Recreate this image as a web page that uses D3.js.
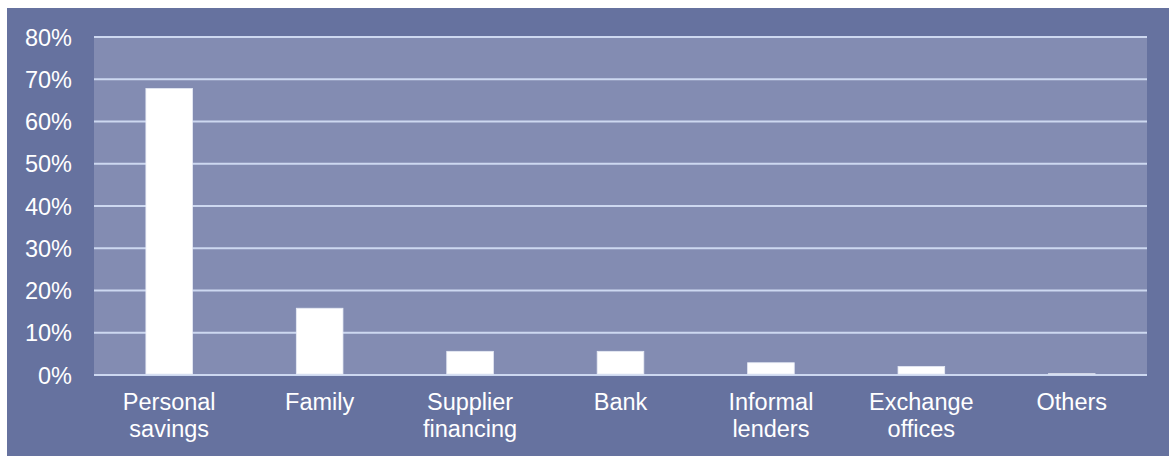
<!DOCTYPE html>
<html>
<head>
<meta charset="utf-8">
<script src="https://cdn.jsdelivr.net/npm/d3@7"></script>
<style>
  html, body { margin: 0; padding: 0; background: #ffffff; }
  svg { display: block; }
  text { font-family: "Liberation Sans", Arial, sans-serif; fill: #ffffff; }
</style>
</head>
<body>
<svg id="chart" width="1169" height="456"></svg>
<script>
// Sources of financing (share of respondents)
const categories = [
  ["Personal", "savings"],
  ["Family"],
  ["Supplier", "financing"],
  ["Bank"],
  ["Informal", "lenders"],
  ["Exchange", "offices"],
  ["Others"]
];
const values = [0.678, 0.158, 0.056, 0.056, 0.029, 0.020, 0.003];
const yTicks = [0, 0.1, 0.2, 0.3, 0.4, 0.5, 0.6, 0.7, 0.8];

const W = 1169, H = 456;
const margin = { left: 94, right: 22, top: 37, bottom: 81 };

const svg = d3.select("#chart");

// Outer frame
svg.append("rect")
  .attr("x", 7).attr("y", 8)
  .attr("width", W - 7).attr("height", H - 8)
  .attr("fill", "#66729F");

const x = d3.scaleBand()
  .domain(categories.map((d, i) => i))
  .range([margin.left, W - margin.right])
  .paddingInner(0.69)
  .paddingOuter(0.345);

const y = d3.scaleLinear()
  .domain([0, 0.8])
  .range([H - margin.bottom, margin.top]);

// Plot area
svg.append("rect")
  .attr("x", margin.left).attr("y", y(0.8))
  .attr("width", W - margin.right - margin.left)
  .attr("height", y(0) - y(0.8))
  .attr("fill", "#838CB2");

// Gridlines
svg.append("g")
  .selectAll("line")
  .data(yTicks)
  .join("line")
  .attr("x1", margin.left).attr("x2", W - margin.right)
  .attr("y1", d => y(d)).attr("y2", d => y(d))
  .attr("stroke", "#CDD8F0")
  .attr("stroke-width", 2);

// Bars
svg.append("g")
  .selectAll("rect")
  .data(values)
  .join("rect")
  .attr("x", (d, i) => x(i))
  .attr("width", x.bandwidth())
  .attr("y", d => y(d))
  .attr("height", d => y(0) - y(d) - 1)
  .attr("fill", "#ffffff")
  .attr("stroke", "#E6EAF5")
  .attr("stroke-width", 0.8);

// Y axis labels
const yAxis = d3.axisLeft(y)
  .tickValues(yTicks)
  .tickFormat(d3.format(".0%"))
  .tickSize(0)
  .tickPadding(22);
const gy = svg.append("g")
  .attr("transform", `translate(${margin.left},0)`)
  .call(yAxis);
gy.select(".domain").remove();
gy.selectAll("text")
  .attr("fill", "#ffffff")
  .style("font-size", "23.5px")
  .style("font-family", "'Liberation Sans', Arial, sans-serif")
  .attr("dy", "0.35em");

// X category labels (two-line)
const xl = svg.append("g")
  .selectAll("text")
  .data(categories)
  .join("text")
  .attr("x", (d, i) => x(i) + x.bandwidth() / 2)
  .attr("y", y(0) + 35)
  .attr("text-anchor", "middle")
  .style("font-size", "23.5px");
xl.selectAll("tspan")
  .data(d => d)
  .join("tspan")
  .attr("x", function () { return d3.select(this.parentNode).attr("x"); })
  .attr("dy", (d, i) => i === 0 ? 0 : 26.5)
  .text(d => d);
</script>
</body>
</html>
